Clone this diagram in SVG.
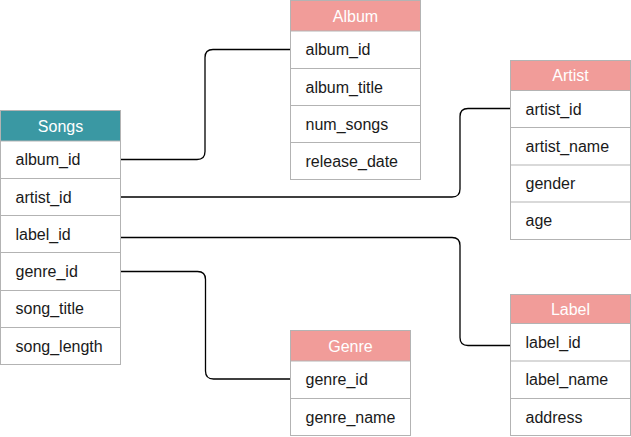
<svg xmlns="http://www.w3.org/2000/svg" width="631" height="437" viewBox="0 0 631 437">
<style>
.box{fill:#fff;stroke:#b3b3b3;stroke-width:1}
.hd{stroke:#b3b3b3;stroke-width:1}
.teal{fill:#3a98a3}
.red{fill:#f19c99}
.ln{stroke:#b3b3b3;stroke-width:1}
.ht{font-family:"Liberation Sans",Arial,sans-serif;font-size:16px;fill:#fff;text-anchor:middle}
.t{font-family:"Liberation Sans",Arial,sans-serif;font-size:16px;fill:#1a1a1a}
.c{fill:none;stroke:#000;stroke-width:1.3}
</style>
<rect width="631" height="437" fill="#fff"/>
<g id="connectors">
<path class="c" d="M120.5,159.5 H197 Q205,159.5 205,151.5 V57.5 Q205,49.5 213,49.5 H290.5"/>
<path class="c" d="M120.5,197 H452 Q460,197 460,189 V116.5 Q460,108.5 468,108.5 H510.5"/>
<path class="c" d="M120.5,237.5 H452 Q460,237.5 460,245.5 V337.5 Q460,345.5 468,345.5 H510.5"/>
<path class="c" d="M120.5,271.5 H197.5 Q205.5,271.5 205.5,279.5 V371 Q205.5,379 213.5,379 H290.5"/>
</g>
<g id="songs">
<rect class="box" x="0.5" y="110.5" width="120" height="254"/>
<rect class="teal hd" x="0.5" y="110.5" width="120" height="30.5"/>
<text class="ht" x="60.5" y="131.5">Songs</text>
<line class="ln" x1="0.5" y1="178.5" x2="120.5" y2="178.5"/>
<line class="ln" x1="0.5" y1="215.5" x2="120.5" y2="215.5"/>
<line class="ln" x1="0.5" y1="252.5" x2="120.5" y2="252.5"/>
<line class="ln" x1="0.5" y1="290.5" x2="120.5" y2="290.5"/>
<line class="ln" x1="0.5" y1="327.5" x2="120.5" y2="327.5"/>
<text class="t" x="15.5" y="165">album_id</text>
<text class="t" x="15.5" y="202.5">artist_id</text>
<text class="t" x="15.5" y="239.5">label_id</text>
<text class="t" x="15.5" y="277">genre_id</text>
<text class="t" x="15.5" y="314">song_title</text>
<text class="t" x="15.5" y="351.5">song_length</text>
</g>
<g id="album">
<rect class="box" x="290.5" y="0.5" width="130" height="179"/>
<rect class="red hd" x="290.5" y="0.5" width="130" height="30.5"/>
<text class="ht" x="355.5" y="21.5">Album</text>
<line class="ln" x1="290.5" y1="68.5" x2="420.5" y2="68.5"/>
<line class="ln" x1="290.5" y1="105.5" x2="420.5" y2="105.5"/>
<line class="ln" x1="290.5" y1="142.5" x2="420.5" y2="142.5"/>
<text class="t" x="305.5" y="55">album_id</text>
<text class="t" x="305.5" y="92.5">album_title</text>
<text class="t" x="305.5" y="129.5">num_songs</text>
<text class="t" x="305.5" y="166.5">release_date</text>
</g>
<g id="artist">
<rect class="box" x="510.5" y="60.5" width="120" height="179"/>
<rect class="red hd" x="510.5" y="60.5" width="120" height="30"/>
<text class="ht" x="570.5" y="81">Artist</text>
<line class="ln" x1="510.5" y1="127.5" x2="630.5" y2="127.5"/>
<line class="ln" x1="510.5" y1="165" x2="630.5" y2="165"/>
<line class="ln" x1="510.5" y1="202" x2="630.5" y2="202"/>
<text class="t" x="525.5" y="114.5">artist_id</text>
<text class="t" x="525.5" y="152">artist_name</text>
<text class="t" x="525.5" y="189">gender</text>
<text class="t" x="525.5" y="226">age</text>
</g>
<g id="genre">
<rect class="box" x="290.5" y="330.5" width="120" height="105"/>
<rect class="red hd" x="290.5" y="330.5" width="120" height="30.5"/>
<text class="ht" x="350.5" y="351.5">Genre</text>
<line class="ln" x1="290.5" y1="398.5" x2="410.5" y2="398.5"/>
<text class="t" x="305.5" y="385">genre_id</text>
<text class="t" x="305.5" y="422.5">genre_name</text>
</g>
<g id="label">
<rect class="box" x="510.5" y="294.5" width="120" height="141"/>
<rect class="red hd" x="510.5" y="294.5" width="120" height="29"/>
<text class="ht" x="570.5" y="314.5">Label</text>
<line class="ln" x1="510.5" y1="361" x2="630.5" y2="361"/>
<line class="ln" x1="510.5" y1="398.5" x2="630.5" y2="398.5"/>
<text class="t" x="525.5" y="348">label_id</text>
<text class="t" x="525.5" y="385">label_name</text>
<text class="t" x="525.5" y="422.5">address</text>
</g>
</svg>
